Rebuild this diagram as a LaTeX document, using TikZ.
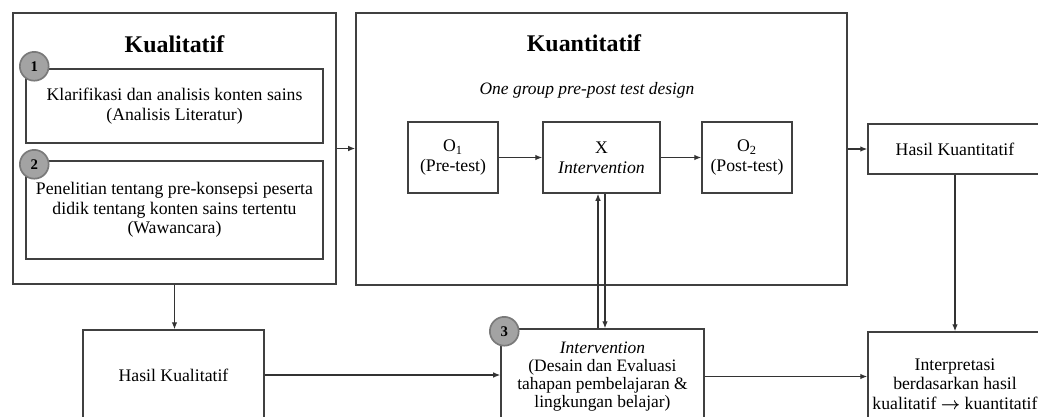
\documentclass[tikz,border=0pt]{standalone}
\usepackage{fontspec}
\setmainfont{Liberation Serif}
\usepackage{tikz}
\usetikzlibrary{arrows.meta,positioning,calc}

\begin{document}
\begin{tikzpicture}[x=0.025cm, y=-0.025cm,
    box/.style={draw=black!75, line width=1pt, align=center, inner sep=2pt,
                font=\fontsize{12.6}{14}\selectfont},
    ttl/.style={font=\fontsize{17}{19}\selectfont\bfseries},
    sub/.style={font=\fontsize{12.4}{14}\selectfont\itshape},
    num/.style={circle, fill=black!36, draw=black!52, line width=1.2pt, minimum size=0.72cm,
                inner sep=0pt, font=\fontsize{10.5}{12}\selectfont\bfseries},
    arr/.style={-{Latex[length=5pt,width=4pt]}, line width=0.9pt, black!80}]
    \path[use as bounding box, fill=white] (0,0) rectangle (1038,416);
    % kualitatif
    \node[box, minimum width=8.075cm, minimum height=6.775cm] (kual) at (174.5,148.5) {};
    \node[ttl] (kualt) at (174.5,44) {Kualitatif};
    \node[box, minimum width=7.425cm, minimum height=1.85cm] (lit) at (174.5,106)
      {Klarifikasi dan analisis konten sains\\(Analisis Literatur)};
    \node[box, minimum width=7.425cm, minimum height=2.45cm] (waw) at (174.5,210)
      {Penelitian tentang pre-konsepsi peserta\\didik tentang konten sains tertentu\\(Wawancara)};
    % kuantitatif
    \node[box, minimum width=12.275cm, minimum height=6.8cm] (kuan) at (601.5,149) {};
    \node[ttl] (kuant) at (584,43) {Kuantitatif};
    \node[sub] (desain) at (587,90) {One group pre-post test design};
    \node[box, minimum width=2.25cm, minimum height=1.775cm] (pre) at (453,157.5)
      {O\textsubscript{1}\\(Pre-test)};
    \node[box, minimum width=2.925cm, minimum height=1.775cm] (xint) at (601.5,157.5)
      {X\\\textit{Intervention}};
    \node[box, minimum width=2.25cm, minimum height=1.775cm] (post) at (747,157.5)
      {O\textsubscript{2}\\(Post-test)};
    \node[box, minimum width=4.35cm, minimum height=1.25cm] (hkn) at (955,149) {Hasil Kuantitatif};
    % baris bawah
    \node[box, minimum width=4.525cm, minimum height=2.25cm] (hkl) at (173.5,375) {Hasil Kualitatif};
    \node[box, minimum width=5.075cm, minimum height=2.375cm, font=\fontsize{12.4}{12.9}\selectfont]
      (intv) at (602.5,376.5)
      {\textit{Intervention}\\(Desain dan Evaluasi\\tahapan pembelajaran \&\\lingkungan belajar)};
    \node[box, minimum width=4.35cm, minimum height=2.6cm] (interp) at (955,384)
      {Interpretasi\\berdasarkan hasil\\kualitatif {\boldmath$\rightarrow$} kuantitatif};
    % nomor
    \node[num] (n1) at ($(lit.north west)+(9,-2)$) {1};
    \node[num] (n2) at ($(waw.north west)+(9,4)$) {2};
    \node[num] (n3) at ($(intv.north west)+(4,3)$) {3};
    % panah
    \draw[arr] (kual.east) -- (kual.east -| kuan.west);
    \draw[arr] (pre) -- (xint);
    \draw[arr] (xint) -- (post);
    \draw[arr] (kuan.east) -- (hkn.west);
    \draw[arr] (hkn) -- (interp);
    \draw[arr] (kual.south) -- (kual.south |- hkl.north);
    \draw[arr] (hkl.east) -- (hkl.east -| intv.west);
    \draw[arr] (intv.east) -- (intv.east -| interp.west);
    \coordinate (up) at ($(xint.south)+(-3.5,0)$);
    \coordinate (dn) at ($(xint.south)+(3.5,0)$);
    \draw[arr] (up |- intv.north) -- (up);
    \draw[arr] (dn) -- (dn |- intv.north);
\end{tikzpicture}
\end{document}
